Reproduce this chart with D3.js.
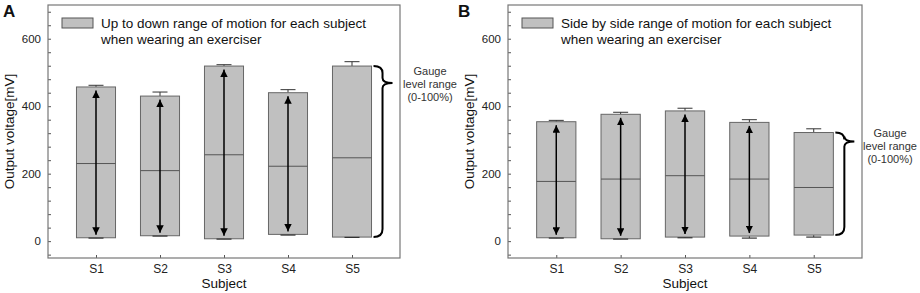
<!DOCTYPE html>
<html>
<head>
<meta charset="utf-8">
<script src="https://cdn.jsdelivr.net/npm/d3@7"></script>
<style>
  body { margin: 0; background: #fff; }
  svg { display: block; font-family: "Liberation Sans", Arial, sans-serif; }
</style>
</head>
<body>
<div id="container"></div>
<script>
/**
 * DATA
 * */
const subjects = ["S1", "S2", "S3", "S4", "S5"];
const arrowSubjects = ["S1", "S2", "S3", "S4"];
const yMajorTicks = [0, 200, 400, 600];

// panel A: up to down
const upLow = [10, 16, 7, 20, 12];
const upHigh = [457, 430, 519, 440, 519];
const upMid = [230, 209, 256, 222, 247];
const upErrHigh = [462, 442, 523, 449, 532];
const upErrLow = [9, 15, 6, 18, 11];

// panel B: side by side
const sideLow = [10, 7, 12, 15, 18];
const sideHigh = [354, 376, 386, 352, 322];
const sideMid = [177, 184, 194, 184, 159];
const sideErrHigh = [358, 382, 394, 360, 333];
const sideErrLow = [9, 6, 10, 9, 12];

const width = 920, height = 293;

const svg = d3.select("#container")
  .append("svg")
  .attr("width", width)
  .attr("height", height);

// arrow heads
const defs = svg.append("defs");
defs.append("marker")
  .attr("id", "head")
  .attr("viewBox", "0 0 10 10")
  .attr("refX", 10).attr("refY", 5)
  .attr("markerWidth", 5).attr("markerHeight", 5)
  .attr("markerUnits", "strokeWidth")
  .attr("orient", "auto-start-reverse")
  .append("path")
  .attr("d", "M0,0 L10,5 L0,10 Z")
  .attr("fill", "#000");

function panel(opt) {
  const left = opt.left, right = opt.right, top = 5, bottom = 258;

  const x = d3.scalePoint().domain(subjects).range([left, right]).padding(0.75);
  const y = d3.scaleLinear().domain([-50, 700]).range([bottom, top]);
  const bw = x.step() * 0.61;

  const g = svg.append("g");

  // panel letter
  g.append("text")
    .attr("x", opt.letterX).attr("y", 17)
    .attr("font-size", 17).attr("font-weight", "bold")
    .attr("fill", "#111")
    .text(opt.letter);

  // y axis: inward ticks, minor ticks every 40
  const yAxis = d3.axisLeft(y)
    .tickValues(d3.range(-40, 700, 40))
    .tickSize(-3)
    .tickPadding(7)
    .tickFormat(d => yMajorTicks.includes(d) ? d : "");
  g.append("g")
    .attr("transform", `translate(${left},0)`)
    .call(yAxis)
    .call(s => s.select(".domain").remove())
    .call(s => s.selectAll("line").attr("stroke", "#555"))
    .call(s => s.selectAll("text").attr("font-size", 11.5).attr("fill", "#222")
      .attr("font-family", "Liberation Sans, Arial, sans-serif"));

  const xAxis = d3.axisBottom(x).tickSize(-3).tickPadding(6);
  g.append("g")
    .attr("transform", `translate(0,${bottom})`)
    .call(xAxis)
    .call(s => s.select(".domain").remove())
    .call(s => s.selectAll("line").attr("stroke", "#555"))
    .call(s => s.selectAll("text").attr("font-size", 12).attr("fill", "#222")
      .attr("font-family", "Liberation Sans, Arial, sans-serif"));

  // frame
  g.append("rect")
    .attr("x", left).attr("y", top)
    .attr("width", right - left).attr("height", bottom - top)
    .attr("fill", "none").attr("stroke", "#777").attr("stroke-width", 1.2);

  // axis titles
  g.append("text")
    .attr("transform", `translate(${opt.titleX},${(top + bottom) / 2}) rotate(-90)`)
    .attr("text-anchor", "middle").attr("dy", "0.35em")
    .attr("font-size", 13.5).attr("fill", "#111")
    .text("Output voltage[mV]");
  g.append("text")
    .attr("x", (left + right) / 2).attr("y", 288)
    .attr("text-anchor", "middle")
    .attr("font-size", 13.5).attr("fill", "#111")
    .text("Subject");

  // legend
  g.append("rect")
    .attr("x", left + 14).attr("y", 18)
    .attr("width", 31).attr("height", 10)
    .attr("fill", "#c0c0c0").attr("stroke", "#555");
  const lt = g.append("text")
    .attr("x", left + 53).attr("y", 28)
    .attr("font-size", 13.5).attr("fill", "#111");
  lt.append("tspan").text(opt.legend[0]);
  lt.append("tspan").attr("x", left + 53).attr("dy", 15.5).text(opt.legend[1]);

  const rows = subjects.map((s, i) => ({
    s, low: opt.low[i], high: opt.high[i], mid: opt.mid[i],
    eh: opt.errHigh[i], el: opt.errLow[i]
  }));

  // error bars
  g.selectAll("g.err")
    .data(rows)
    .join("g")
    .attr("class", "err")
    .each(function(d) {
      const e = d3.select(this), cx = x(d.s);
      e.append("line").attr("x1", cx).attr("x2", cx)
        .attr("y1", y(d.high)).attr("y2", y(d.eh));
      e.append("line").attr("x1", cx - 7.5).attr("x2", cx + 7.5)
        .attr("y1", y(d.eh)).attr("y2", y(d.eh));
      e.append("line").attr("x1", cx).attr("x2", cx)
        .attr("y1", y(d.low)).attr("y2", y(d.el));
    })
    .selectAll("line").attr("stroke", "#333").attr("stroke-width", 1);

  // floating bars
  g.selectAll("rect.bar")
    .data(rows)
    .join("rect")
    .attr("class", "bar")
    .attr("x", d => x(d.s) - bw / 2)
    .attr("width", bw)
    .attr("y", d => y(d.high))
    .attr("height", d => y(d.low) - y(d.high))
    .attr("fill", "#c0c0c0")
    .attr("stroke", "#666").attr("stroke-width", 1);

  // mean lines
  g.selectAll("line.mid")
    .data(rows)
    .join("line")
    .attr("class", "mid")
    .attr("x1", d => x(d.s) - bw / 2).attr("x2", d => x(d.s) + bw / 2)
    .attr("y1", d => y(d.mid)).attr("y2", d => y(d.mid))
    .attr("stroke", "#555").attr("stroke-width", 1);

  // lower caps over bar edge
  g.selectAll("line.lcap")
    .data(rows)
    .join("line")
    .attr("class", "lcap")
    .attr("x1", d => x(d.s) - 7.5).attr("x2", d => x(d.s) + 7.5)
    .attr("y1", d => y(d.el)).attr("y2", d => y(d.el))
    .attr("stroke", "#333").attr("stroke-width", 1.2);

  // range arrows
  g.selectAll("line.arrow")
    .data(rows.filter(d => arrowSubjects.includes(d.s)))
    .join("line")
    .attr("class", "arrow")
    .attr("x1", d => x(d.s)).attr("x2", d => x(d.s))
    .attr("y1", d => y(d.high) + 3.5).attr("y2", d => y(d.low) - 3)
    .attr("stroke", "#000").attr("stroke-width", 1.5)
    .attr("marker-start", "url(#head)")
    .attr("marker-end", "url(#head)");

  // brace next to last bar
  const last = rows[rows.length - 1];
  const x0 = x(last.s) + bw / 2 + 2, xm = x0 + 9, tip = x0 + 19;
  const yt = y(last.high), yb = y(last.low), yk = yt + opt.braceTip;
  g.append("path")
    .attr("d", `M${x0},${yt} Q${xm},${yt} ${xm},${yt + 7}
      L${xm},${yk - 5} Q${xm},${yk} ${tip},${yk}
      Q${xm},${yk} ${xm},${yk + 5}
      L${xm},${yb - 8} Q${xm},${yb} ${x0},${yb}`)
    .attr("fill", "none").attr("stroke", "#000").attr("stroke-width", 2);

  const bt = g.append("text")
    .attr("text-anchor", "middle")
    .attr("font-size", 11).attr("fill", "#333")
    .attr("font-family", "Liberation Sans, Arial, sans-serif");
  ["Gauge", "level range", "(0-100%)"].forEach((t, i) => {
    bt.append("tspan")
      .attr("x", opt.noteX)
      .attr("y", yt + opt.noteDy + i * 13)
      .text(t);
  });
}

panel({
  letter: "A", letterX: 3, left: 48, right: 400, titleX: 9,
  low: upLow, high: upHigh, mid: upMid, errHigh: upErrHigh, errLow: upErrLow,
  legend: ["Up to down range of motion for each subject", "when wearing an exerciser"],
  braceTip: 17, noteX: 430, noteDy: 8.5
});

panel({
  letter: "B", letterX: 458, left: 508, right: 862, titleX: 469,
  low: sideLow, high: sideHigh, mid: sideMid, errHigh: sideErrHigh, errLow: sideErrLow,
  legend: ["Side by side range of motion for each subject", "when wearing an exerciser"],
  braceTip: 9, noteX: 890, noteDy: 4.5
});
</script>
</body>
</html>
